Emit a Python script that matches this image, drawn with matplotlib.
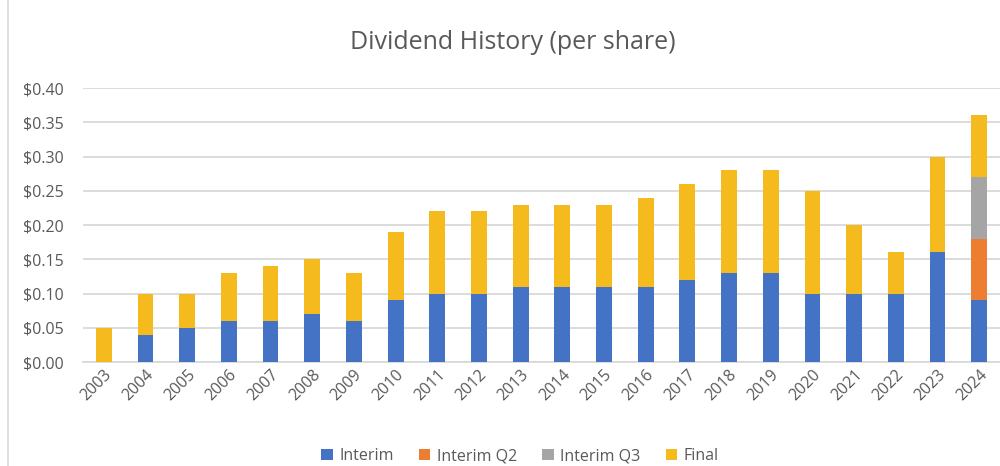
import matplotlib
matplotlib.use("Agg")
import matplotlib.pyplot as plt
from matplotlib.ticker import FuncFormatter
from matplotlib.patches import Rectangle
import numpy as np

years = [str(y) for y in range(2003, 2025)]
interim = [0.00, 0.04, 0.05, 0.06, 0.06, 0.07, 0.06, 0.09, 0.10, 0.10, 0.11,
           0.11, 0.11, 0.11, 0.12, 0.13, 0.13, 0.10, 0.10, 0.10, 0.16, 0.09]
interim_q2 = [0]*21 + [0.09]
interim_q3 = [0]*21 + [0.09]
final = [0.05, 0.06, 0.05, 0.07, 0.08, 0.08, 0.07, 0.10, 0.12, 0.12, 0.12,
         0.12, 0.12, 0.13, 0.14, 0.15, 0.15, 0.15, 0.10, 0.06, 0.14, 0.09]

colors = {"Interim": "#4472C4", "Interim Q2": "#ED7D31",
          "Interim Q3": "#A5A5A5", "Final": "#F5BA1E"}

plt.rcParams['font.family'] = ['Open Sans', 'DejaVu Sans']
fig = plt.figure(figsize=(10, 4.66), dpi=100)
fig.patches.append(Rectangle((0.008, -0.01), 1.0, 1.02, transform=fig.transFigure,
                             fill=False, edgecolor="#D9D9D9", linewidth=1.2))
ax = fig.add_axes([0.083, 0.223, 0.917, 0.588])

x = np.arange(len(years))
w = 0.38
bottom = np.zeros(len(years))
for name, vals in [("Interim", interim), ("Interim Q2", interim_q2),
                   ("Interim Q3", interim_q3), ("Final", final)]:
    v = np.array(vals)
    ax.bar(x, v, w, bottom=bottom, color=colors[name], label=name, zorder=3)
    bottom += v

ax.set_ylim(0, 0.40)
ax.set_xlim(-0.5, len(years) - 0.5)
ax.set_yticks(np.arange(0, 0.401, 0.05))
ax.yaxis.set_major_formatter(FuncFormatter(lambda v, p: f"${v:.2f}"))
ax.grid(axis='y', color="#D9D9D9", linewidth=1.3, zorder=0)
for s in ["top", "right", "left"]:
    ax.spines[s].set_visible(False)
ax.spines["bottom"].set_color("#D9D9D9")
ax.spines["bottom"].set_linewidth(1.3)
ax.tick_params(axis='both', length=0, colors="#595959", labelsize=11.5)
ax.tick_params(axis='y', pad=14)
ax.set_xticks(x)
ax.set_xticklabels(years, rotation=45, ha='right', rotation_mode='anchor')

fig.text(0.513, 0.908, "Dividend History (per share)", ha='center', va='center',
         fontsize=18, color="#595959")
fig.legend(loc='lower center', ncol=4, frameon=False, bbox_to_anchor=(0.52, -0.027),
           fontsize=11.5, labelcolor="#595959", handlelength=0.7, handleheight=0.7,
           columnspacing=1.6, handletextpad=0.4)

fig.savefig("out.png", dpi=100)
